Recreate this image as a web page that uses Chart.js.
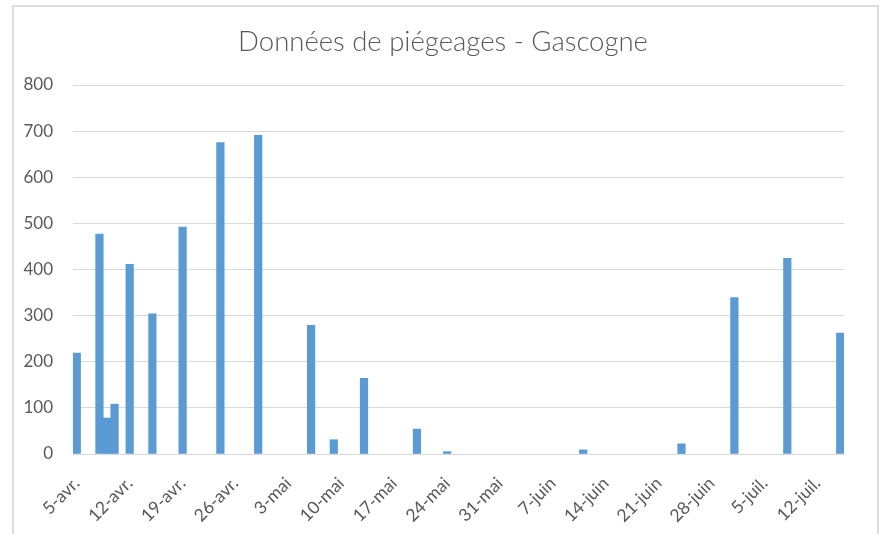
<!DOCTYPE html>
<html>
<head>
<meta charset="utf-8">
<script src="https://cdn.jsdelivr.net/npm/chart.js@4/dist/chart.umd.min.js"></script>
<style>
  body { margin: 0; background: #fff; }
  #cadre { position: absolute; left: 12px; top: 5px; width: 867px; height: 560px; border: 2px solid #dcdcdc; box-sizing: border-box; }
  #graphe { position: absolute; left: 0; top: 0; }
</style>
</head>
<body>
<div id="cadre"></div>
<canvas id="graphe" width="886" height="534"></canvas>
<script>
// jours comptés à partir du 5 avril
const jours = [0, 3, 4, 5, 7, 10, 14, 19, 24, 31, 34, 38, 45, 49, 67, 80, 87, 94, 101]
const captures = [219, 477, 78, 108, 411, 304, 492, 675, 691, 279, 31, 164, 54, 5, 9, 22, 339, 424, 262]
const etiquettes = ['5-avr.', '12-avr.', '19-avr.', '26-avr.', '3-mai', '10-mai', '17-mai', '24-mai', '31-mai', '7-juin', '14-juin', '21-juin', '28-juin', '5-juil.', '12-juil.']

const gris = '#595959'
const police = 'Lato, "Open Sans", sans-serif'

const points = []
for (let i = 0; i < jours.length; i++) {
    points.push({x: jours[i], y: captures[i]})
}

const data = {
    datasets: [
        {
            data: points,
            backgroundColor: '#5B9BD5',
            borderWidth: 0,
            barPercentage: 1,
            categoryPercentage: 1
        }
    ]
}

const config = {
    type: 'bar',
    data: data,
    options: {
        responsive: false,
        animation: false,
        layout: {
            padding: {left: 0, right: 0, top: 6, bottom: 0}
        },
        plugins: {
            legend: {display: false},
            tooltip: {enabled: false},
            title: {
                display: true,
                text: 'Données de piégeages - Gascogne',
                color: gris,
                font: {family: police, size: 27.5, weight: 300},
                padding: {top: 20, bottom: 26}
            }
        },
        scales: {
            x: {
                type: 'linear',
                offset: false,
                min: -0.5,
                max: 101.5,
                grid: {display: false, drawTicks: false},
                border: {color: '#d9d9d9', width: 1},
                ticks: {
                    stepSize: 7,
                    includeBounds: false,
                    autoSkip: false,
                    maxRotation: 45,
                    minRotation: 45,
                    padding: 19,
                    color: gris,
                    font: {family: police, size: 17.5},
                    callback: function (v) { return etiquettes[v / 7] }
                },
                afterFit: function (scale) { scale.height = 80 }
            },
            y: {
                min: 0,
                max: 800,
                grid: {color: '#d9d9d9', drawTicks: false},
                border: {display: false},
                ticks: {
                    stepSize: 100,
                    padding: 20,
                    color: gris,
                    font: {family: police, size: 17}
                },
                afterFit: function (scale) { scale.width = 73 }
            },
            // marge droite, pour centrer le titre sur toute la largeur
            droite: {
                position: 'right',
                min: 0,
                max: 800,
                grid: {display: false, drawTicks: false},
                border: {display: false},
                ticks: {display: false},
                afterFit: function (scale) { scale.width = 42 }
            }
        }
    }
}

const monGraphe = new Chart(document.getElementById('graphe'), config)
</script>
</body>
</html>
